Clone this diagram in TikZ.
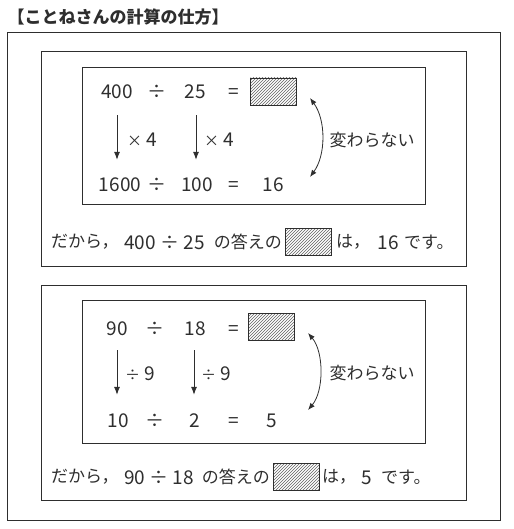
\documentclass[tikz,border=0pt]{standalone}
\usepackage{fontspec}
\setmainfont{Noto Sans CJK JP}
\usepackage{tikz}
\usetikzlibrary{arrows.meta,patterns,positioning}
\definecolor{ink}{HTML}{2E2E2E}
\newcommand{\smallop}[1]{{\fontsize{15}{15}\selectfont #1}}
\tikzset{
  frame/.style={draw=ink, line width=0.9pt},
  num/.style={text=ink, font=\fontsize{19}{19}\selectfont, inner sep=0pt, text height=14pt, text depth=0pt},
  jp/.style={text=ink, font=\fontsize{17}{17}\selectfont, inner sep=0pt},
  answerbox/.style={draw=ink, line width=0.8pt, pattern=north east lines, pattern color=ink!75, minimum width=46pt, minimum height=27pt, inner sep=0pt},
  downarr/.style={-{Latex[length=8pt,width=6pt]}, draw=ink, line width=0.8pt},
  samearr/.style={{Latex[length=7pt,width=5.5pt]}-{Latex[length=7pt,width=5.5pt]}, draw=ink, line width=0.8pt},
}

\begin{document}
\begin{tikzpicture}[x=1pt, y=-1pt]
    \useasboundingbox (0,0) rectangle (513,529);

    \node[text=ink, font=\fontsize{17}{17}\selectfont\bfseries, anchor=west, inner sep=0pt] (title) at (7.5,17) {【ことねさんの計算の仕方】};

    % frames
    \draw[frame] (7,32) rectangle (500,520);
    \draw[frame] (41,51) rectangle (466,266);
    \draw[frame] (82,67) rectangle (425,204);
    \draw[frame] (41,285) rectangle (466,500);
    \draw[frame] (82,300) rectangle (425,443);

    % first calculation
    \node[num] (n400) at (117,92) {400};
    \node[num] (d1) at (157,92) {÷};
    \node[num] (n25) at (195,92) {25};
    \node[num] (e1) at (234,92) {=};
    \node[answerbox] (q1) at (273.5,91.5) {};

    \node[num] (n1600) at (120,185) {1600};
    \node[num] (d2) at (157,185) {÷};
    \node[num] (n100) at (197,185) {100};
    \node[num] (e2) at (234,185) {=};
    \node[num] (n16) at (273,185) {16};

    \draw[downarr, shorten <=16pt, shorten >=18pt] (n400.south) -- (n400.south |- n1600.north);
    \draw[downarr, shorten <=16pt, shorten >=18pt] ([xshift=1pt]n25.south) -- ([xshift=1pt]n25.south |- n100.north);
    \node[num] (m1) at (142,140) {\smallop{×} 4};
    \node[num] (m2) at (219,140) {\smallop{×} 4};

    \coordinate (s1) at (310,98);
    \coordinate (s2) at (310,177);
    \draw[samearr] (s1) .. controls (326,120) and (326,155) .. (s2);
    \node[jp] (same1) at (372,140) {変わらない};

    \node[jp, anchor=west] (c1) at (51,242) {だから，};
    \node[num] (c2) at (164.5,242) {400 ÷ 25};
    \node[jp, anchor=east] (c3) at (282,242) {の答えの};
    \node[answerbox] (q2) at (308.5,241.5) {};
    \node[jp, anchor=west] (c4) at (336,242) {は，};
    \node[num] (c5) at (388,242) {16};
    \node[jp, anchor=west] (c6) at (404,242) {です。};

    % second calculation
    \node[num] (n90) at (117,328) {90};
    \node[num] (d3) at (155,328) {÷};
    \node[num] (n18) at (195,328) {18};
    \node[num] (e3) at (234,328) {=};
    \node[answerbox] (q3) at (271,327) {};

    \node[num] (n10) at (118,420) {10};
    \node[num] (d4) at (155,420) {÷};
    \node[num] (n2) at (195,420) {2};
    \node[num] (e4) at (234,420) {=};
    \node[num] (n5) at (272,420) {5};

    \draw[downarr, shorten <=15pt, shorten >=18pt] (n90.south) -- (n90.south |- n10.north);
    \draw[downarr, shorten <=15pt, shorten >=18pt] ([xshift=-1pt]n18.south) -- ([xshift=-1pt]n18.south |- n2.north);
    \node[num] (m3) at (140,373) {\smallop{÷} 9};
    \node[num] (m4) at (216,373) {\smallop{÷} 9};

    \coordinate (s3) at (308,333);
    \coordinate (s4) at (308,410);
    \draw[samearr] (s3) .. controls (324,352) and (324,391) .. (s4);
    \node[jp] (same2) at (372,373) {変わらない};

    \node[jp, anchor=west] (c7) at (51,477) {だから，};
    \node[num] (c8) at (159,477) {90 ÷ 18};
    \node[jp, anchor=east] (c9) at (270,477) {の答えの};
    \node[answerbox] (q4) at (296,477) {};
    \node[jp, anchor=west] (c10) at (322,477) {は，};
    \node[num] (c11) at (367,477) {5};
    \node[jp, anchor=west] (c12) at (381,477) {です。};
\end{tikzpicture}
\end{document}
